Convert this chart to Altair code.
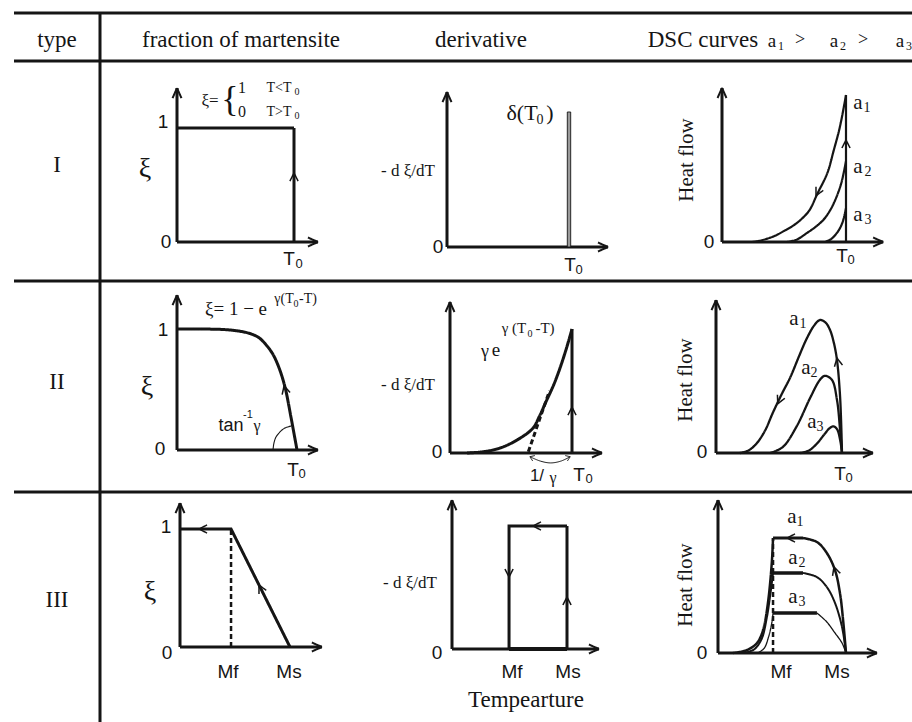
import math
import altair as alt
import pandas as pd

W, H = 912, 722
INK = "#151515"
SERIF = "Liberation Serif"
SANS = "Liberation Sans"

# ---------------- table frame (layout, px) ----------------
FRAME_X0, FRAME_X1 = 14, 912
FRAME_ROWS_Y = [13, 61, 281, 492]
FRAME_COL_X = 100
FRAME_TOP, FRAME_BOTTOM = 13, 722

# ---------------- panel geometry: axis origin (px) and px per unit ----------------
PANEL = {
    "I1": (177, 242, 117, 114),
    "I2": (447, 247, 122, 135),
    "I3": (722, 242, 124, 147),
    "II1": (177, 450, 120, 121),
    "II2": (450, 453, 122, 124),
    "II3": (716, 453, 126, 133),
    "III1": (180, 647, 110, 118),
    "III2": (452, 649, 115, 123),
    "III3": (718, 653, 128, 115),
}
AXIS_LEN = {
    "I1": (1.205, 1.35), "I2": (1.32, 1.148), "I3": (1.30, 1.048),
    "II1": (1.175, 1.28), "II2": (1.246, 1.218), "II3": (1.246, 1.15),
    "III1": (1.29, 1.22), "III2": (1.278, 1.21), "III3": (1.242, 1.33),
}

# ---------------- schematic data (panel units: T0 = 1, top = 1) ----------------
# Type I
I1_T = [0, 1, 1]
I1_XI = [1, 1, 0]
I2_DELTA_T, I2_DELTA_H = 1.0, 1.0
I3_A1_T = [0.24, 0.30, 0.41, 0.50, 0.60, 0.70, 0.77, 0.85, 0.90, 0.95, 1.0]
I3_A1_V = [0, 0.008, 0.036, 0.075, 0.127, 0.21, 0.33, 0.47, 0.62, 0.78, 1.0]
I3_A2_T = [0.52, 0.60, 0.683, 0.75, 0.817, 0.875, 0.925, 0.965, 1.0]
I3_A2_V = [0, 0.015, 0.06, 0.10, 0.15, 0.22, 0.31, 0.41, 0.55]
I3_A3_T = [0.83, 0.88, 0.925, 0.955, 0.978, 1.0]
I3_A3_V = [0, 0.02, 0.06, 0.10, 0.15, 0.23]

# Type II
II1_T = [0, 0.2, 0.4, 0.5, 0.6, 0.68, 0.75, 0.8, 0.85, 0.9, 0.95, 1.0]
II1_XI = [1, 1, 0.995, 0.985, 0.965, 0.93, 0.86, 0.79, 0.68, 0.52, 0.27, 0]
II1_ARC_T = [0.80, 0.808, 0.825, 0.858, 0.90, 0.95]
II1_ARC_V = [0, 0.058, 0.107, 0.149, 0.182, 0.198]
II2_T = [0.14, 0.27, 0.41, 0.55, 0.68, 0.73, 0.79, 0.85, 0.90, 0.95, 1.0]
II2_V = [0, 0.01, 0.04, 0.105, 0.20, 0.29, 0.42, 0.55, 0.68, 0.83, 1.0]
II2_TANGENT_T = [0.642, 0.815]
II2_TANGENT_V = [0.01, 0.50]
II2_GAP_T = [0.655, 0.74, 0.825, 0.91, 0.985]
II2_GAP_V = [-0.03, -0.065, -0.08, -0.065, -0.03]
II3_A1_T = [0.19, 0.26, 0.325, 0.39, 0.45, 0.52, 0.59, 0.66, 0.72, 0.78, 0.825,
            0.87, 0.905, 0.935, 0.96, 0.985, 1.0]
II3_A1_V = [0, 0.02, 0.075, 0.17, 0.30, 0.44, 0.57, 0.73, 0.86, 0.96, 1.0,
            0.98, 0.925, 0.83, 0.70, 0.42, 0]
II3_A2_T = [0.43, 0.53, 0.64, 0.75, 0.825, 0.865, 0.92, 0.96, 0.985, 1.0]
II3_A2_V = [0, 0.045, 0.20, 0.42, 0.55, 0.58, 0.55, 0.40, 0.17, 0]
II3_A3_T = [0.67, 0.74, 0.80, 0.86, 0.90, 0.93, 0.96, 0.985, 1.0]
II3_A3_V = [0, 0.02, 0.07, 0.14, 0.185, 0.20, 0.18, 0.10, 0]

# Type III
III1_MF = 0.464
III2_MF = 0.496
III3_MF = 0.43
III3_A1_RISE_T = [0.117, 0.227, 0.305, 0.352, 0.39, 0.42, 0.43]
III3_A1_RISE_V = [0, 0.026, 0.087, 0.20, 0.435, 0.78, 1.0]
III3_A1_TOP_T = [0.43, 0.664]
III3_A1_FALL_T = [0.664, 0.773, 0.85, 0.914, 0.953, 0.977, 1.0]
III3_A1_FALL_V = [1.0, 0.965, 0.87, 0.72, 0.52, 0.29, 0]
III3_A2_RISE_T = [0.195, 0.28, 0.34, 0.38, 0.41, 0.43]
III3_A2_RISE_V = [0, 0.03, 0.12, 0.30, 0.52, 0.696]
III3_A2_TOP_T = [0.43, 0.664]
III3_A2_FALL_T = [0.664, 0.773, 0.85, 0.914, 0.969, 1.0]
III3_A2_FALL_V = [0.696, 0.66, 0.574, 0.435, 0.226, 0]
III3_A3_RISE_T = [0.31, 0.36, 0.395, 0.42, 0.43]
III3_A3_RISE_V = [0, 0.04, 0.14, 0.26, 0.348]
III3_A3_TOP_T = [0.43, 0.773]
III3_A3_FALL_T = [0.773, 0.85, 0.914, 0.969, 1.0]
III3_A3_FALL_V = [0.348, 0.27, 0.174, 0.087, 0]

# direction arrows on the curves: panel, T, value, heading (deg, clockwise from up)
ARROWS = [
    ("I1", 1, 0.605, 0), ("I3", 1, 0.694, 0), ("I3", 0.758, 0.315, 207),
    ("II1", 0.892, 0.53, 345), ("II2", 1, 0.37, 0),
    ("II3", 0.49, 0.37, 205), ("II3", 0.96, 0.714, 349),
    ("III1", 0.173, 1, 270), ("III1", 0.718, 0.525, 333),
    ("III2", 0.704, 1, 270), ("III2", 0.496, 0.585, 180), ("III2", 1, 0.423, 0),
    ("III3", 0.539, 1, 270), ("III3", 0.906, 0.748, 342),
]

# ---------------- text (layout, px) ----------------
SERIF_TEXT = [
    ("type", 57, 40, 23), ("fraction of martensite", 241, 40, 23),
    ("derivative", 481, 40, 23), ("DSC curves", 703, 40, 23),
    ("a", 772, 41, 19), ("1", 781, 46, 12), (">", 800, 40, 18),
    ("a", 834, 41, 19), ("2", 843, 46, 12), (">", 863, 40, 18),
    ("a", 900, 41, 19), ("3", 909, 46, 12),
    ("I", 57, 165, 23), ("II", 57, 382, 23), ("III", 57, 600, 23),
    # type I
    ("ξ=", 210, 101, 17), ("{", 230, 100, 36),
    ("1", 242, 88, 16), ("T<T", 279, 88, 14), ("0", 297, 92, 10),
    ("0", 242, 112, 16), ("T>T", 279, 112, 14), ("0", 297, 116, 10),
    ("- d ξ/dT", 408, 171, 17),
    ("δ(T", 522, 113, 22), ("0", 540, 120, 14), (")", 550, 113, 22),
    ("a", 858, 103, 21), ("1", 867, 108, 14),
    ("a", 858, 167, 21), ("2", 868, 172, 14),
    ("a", 858, 215, 21), ("3", 868, 220, 14),
    # type II
    ("ξ= 1 − e", 236, 309, 19), ("γ(T", 284, 299, 14), ("0", 296, 304, 10), ("-T)", 308, 299, 14),
    ("γ", 257, 426, 16),
    ("- d ξ/dT", 408, 385, 17),
    ("γ", 485, 352, 18), ("e", 496, 350, 19),
    ("γ (T", 514, 328, 15), ("0", 530, 334, 10), ("-T)", 545, 328, 15),
    ("γ", 553, 478, 16),
    ("a", 794, 319, 21), ("1", 803, 324, 14),
    ("a", 806, 368, 21), ("2", 814, 373, 14),
    ("a", 812, 422, 21), ("3", 820, 427, 14),
    # type III
    ("- d ξ/dT", 410, 583, 17),
    ("Tempearture", 526, 700, 23),
    ("a", 792, 517, 21), ("1", 800, 522, 14),
    ("a", 793, 558, 21), ("2", 802, 563, 14),
    ("a", 793, 597, 21), ("3", 802, 602, 14),
    # axis symbols
    ("ξ", 145, 169, 28), ("ξ", 147, 387, 28), ("ξ", 150, 592, 28),
]
SANS_TEXT = [
    ("1", 163, 122, 19), ("0", 166, 242, 19), ("T", 289, 259, 19), ("0", 299, 264, 13),
    ("0", 438, 247, 19), ("T", 570, 265, 19), ("0", 579, 270, 13),
    ("0", 709, 242, 19), ("T", 842, 256, 19), ("0", 851, 260, 13),
    ("1", 163, 330, 19), ("0", 160, 449, 19), ("T", 293, 470, 19), ("0", 302, 474, 13),
    ("tan", 231, 426, 18), ("-1", 248, 415, 11),
    ("0", 437, 452, 19), ("1/", 537, 476, 17), ("T", 579, 475, 19), ("0", 589, 479, 13),
    ("0", 702, 452, 19), ("T", 840, 474, 19), ("0", 849, 478, 13),
    ("1", 166, 527, 19), ("0", 167, 653, 19), ("Mf", 228, 672, 19), ("Ms", 289, 672, 19),
    ("0", 437, 653, 19), ("Mf", 512, 672, 19), ("Ms", 568, 672, 19),
    ("0", 702, 653, 19), ("Mf", 781, 672, 19), ("Ms", 837, 672, 19),
]
ROT_TEXT = [("Heat flow", 687, 160, 21), ("Heat flow", 686, 380, 21), ("Heat flow", 686, 585, 21)]

# ---------------- build tables ----------------
straight, smooth = [], []


def add(target, key, panel, T, V, w, dash="solid"):
    ox, oy, sx, sy = PANEL[panel]
    for i, (t, v) in enumerate(zip(T, V)):
        target.append({"key": key, "order": i, "x": ox + t * sx, "y": oy - v * sy,
                       "w": w, "dash": dash})


for i, y in enumerate(FRAME_ROWS_Y):
    straight.append({"key": f"h{i}", "order": 0, "x": FRAME_X0, "y": y, "w": 3, "dash": "solid"})
    straight.append({"key": f"h{i}", "order": 1, "x": FRAME_X1, "y": y, "w": 3, "dash": "solid"})
straight.append({"key": "v", "order": 0, "x": FRAME_COL_X, "y": FRAME_TOP, "w": 3, "dash": "solid"})
straight.append({"key": "v", "order": 1, "x": FRAME_COL_X, "y": FRAME_BOTTOM, "w": 3, "dash": "solid"})

_arrow_n = [0]


def arrow(panel, t, v, heading, length, sw, half_angle=26):
    """Open V arrowhead with its tip on (t, v), drawn as a 3-point polyline."""
    ox, oy, sx, sy = PANEL[panel]
    x, y = ox + t * sx, oy - v * sy
    a = math.radians(heading)
    bx, by = -math.sin(a), math.cos(a)  # pointing backwards (screen coords)
    key = f"arrow{_arrow_n[0]}"
    _arrow_n[0] += 1
    pts = []
    for s in (1, -1):
        th = math.radians(half_angle) * s
        rx = bx * math.cos(th) - by * math.sin(th)
        ry = bx * math.sin(th) + by * math.cos(th)
        pts.append((x + length * rx, y + length * ry))
    seq = [pts[0], (x, y), pts[1]]
    for i, (px, py) in enumerate(seq):
        straight.append({"key": key, "order": i, "x": px, "y": py, "w": sw, "dash": "solid"})


for p, (lx, ly) in AXIS_LEN.items():
    add(straight, p + "_x", p, [0, lx], [0, 0], 3)
    add(straight, p + "_y", p, [0, 0], [0, ly], 3)
    arrow(p, lx, 0, 90, 11, 2.0, 24)
    arrow(p, 0, ly, 0, 11, 2.0, 24)

for p, t, v, a in ARROWS:
    arrow(p, t, v, a, 9, 1.5, 27)
arrow("II2", II2_GAP_T[0], II2_GAP_V[0], 292, 5, 1, 35)
arrow("II2", II2_GAP_T[-1], II2_GAP_V[-1], 68, 5, 1, 35)

# type I
add(straight, "I1_step", "I1", I1_T, I1_XI, 3)
add(smooth, "I3_a1", "I3", I3_A1_T, I3_A1_V, 2.2)
add(smooth, "I3_a2", "I3", I3_A2_T, I3_A2_V, 2.2)
add(smooth, "I3_a3", "I3", I3_A3_T, I3_A3_V, 2.2)
add(straight, "I3_v", "I3", [1, 1], [0, 1], 2.2)
# type II
add(smooth, "II1_c", "II1", II1_T, II1_XI, 3)
add(smooth, "II1_arc", "II1", II1_ARC_T, II1_ARC_V, 1.1)
add(smooth, "II2_c", "II2", II2_T, II2_V, 3)
add(straight, "II2_v", "II2", [1, 1], [0, 1], 3)
add(straight, "II2_tan", "II2", II2_TANGENT_T, II2_TANGENT_V, 3, "dash")
add(smooth, "II2_gap", "II2", II2_GAP_T, II2_GAP_V, 1)
add(smooth, "II3_a1", "II3", II3_A1_T, II3_A1_V, 2.3)
add(smooth, "II3_a2", "II3", II3_A2_T, II3_A2_V, 2.3)
add(smooth, "II3_a3", "II3", II3_A3_T, II3_A3_V, 2.3)
# type III
add(straight, "III1_p", "III1", [0, III1_MF, 1], [1, 1, 0], 3)
add(straight, "III1_d", "III1", [III1_MF, III1_MF], [0, 1], 2.5, "dash")
add(straight, "III2_p", "III2", [1, 1, III2_MF, III2_MF], [0, 1, 1, 0], 3)
add(straight, "III2_b", "III2", [III2_MF, 1], [0, 0], 4)
add(straight, "III3_d", "III3", [III3_MF, III3_MF], [0, 1], 2.5, "dash")
add(smooth, "III3_a1r", "III3", III3_A1_RISE_T, III3_A1_RISE_V, 2.5)
add(straight, "III3_a1t", "III3", III3_A1_TOP_T, [1, 1], 3)
add(smooth, "III3_a1f", "III3", III3_A1_FALL_T, III3_A1_FALL_V, 2.5)
add(smooth, "III3_a2r", "III3", III3_A2_RISE_T, III3_A2_RISE_V, 2)
add(straight, "III3_a2t", "III3", III3_A2_TOP_T, [0.696, 0.696], 3.5)
add(smooth, "III3_a2f", "III3", III3_A2_FALL_T, III3_A2_FALL_V, 2)
add(smooth, "III3_a3r", "III3", III3_A3_RISE_T, III3_A3_RISE_V, 1.3)
add(straight, "III3_a3t", "III3", III3_A3_TOP_T, [0.348, 0.348], 3.5)
add(smooth, "III3_a3f", "III3", III3_A3_FALL_T, III3_A3_FALL_V, 1.3)

ox, oy, sx, sy = PANEL["I2"]
spike = pd.DataFrame([{"x": ox + I2_DELTA_T * sx - 1.7, "x2": ox + I2_DELTA_T * sx + 1.7,
                       "y": oy, "y2": oy - I2_DELTA_H * sy}])

# ---------------- chart ----------------
xs = alt.Scale(domain=[0, W], nice=False, zero=False)
ys = alt.Scale(domain=[0, H], nice=False, zero=False, reverse=True)
X = alt.X("x:Q", scale=xs, axis=None)
Y = alt.Y("y:Q", scale=ys, axis=None)


def line_layer(rows, interp):
    return alt.Chart(pd.DataFrame(rows)).mark_line(
        interpolate=interp, color=INK, strokeCap="butt", strokeJoin="miter"
    ).encode(
        x=X, y=Y,
        detail="key:N",
        order="order:Q",
        strokeWidth=alt.StrokeWidth("w:Q", scale=None),
        strokeDash=alt.StrokeDash("dash:N", scale=alt.Scale(domain=["solid", "dash"],
                                                           range=[[1, 0], [5, 3]]), legend=None),
    )


def text_layer(rows, font, angle=0):
    df = pd.DataFrame(rows, columns=["text", "x", "y", "fs"])
    return alt.Chart(df).mark_text(font=font, color=INK, align="center", baseline="middle",
                                   angle=angle).encode(
        x=X, y=Y, text="text:N", size=alt.Size("fs:Q", scale=None))


spike_layer = alt.Chart(spike).mark_rect(fill="#9a9a9a", stroke=INK, strokeWidth=0.9).encode(
    x=X, x2="x2:Q", y=Y, y2="y2:Q")

chart = alt.layer(
    line_layer(straight, "linear"),
    line_layer(smooth, "catmull-rom"),
    spike_layer,
    text_layer(SERIF_TEXT, SERIF),
    text_layer(SANS_TEXT, SANS),
    text_layer(ROT_TEXT, SERIF, 270),
).properties(
    width=W, height=H, autosize=alt.AutoSizeParams(type="none"), padding=0
).configure_view(stroke=None)

chart.save("out.html", embed_options={"renderer": "svg", "actions": False})
